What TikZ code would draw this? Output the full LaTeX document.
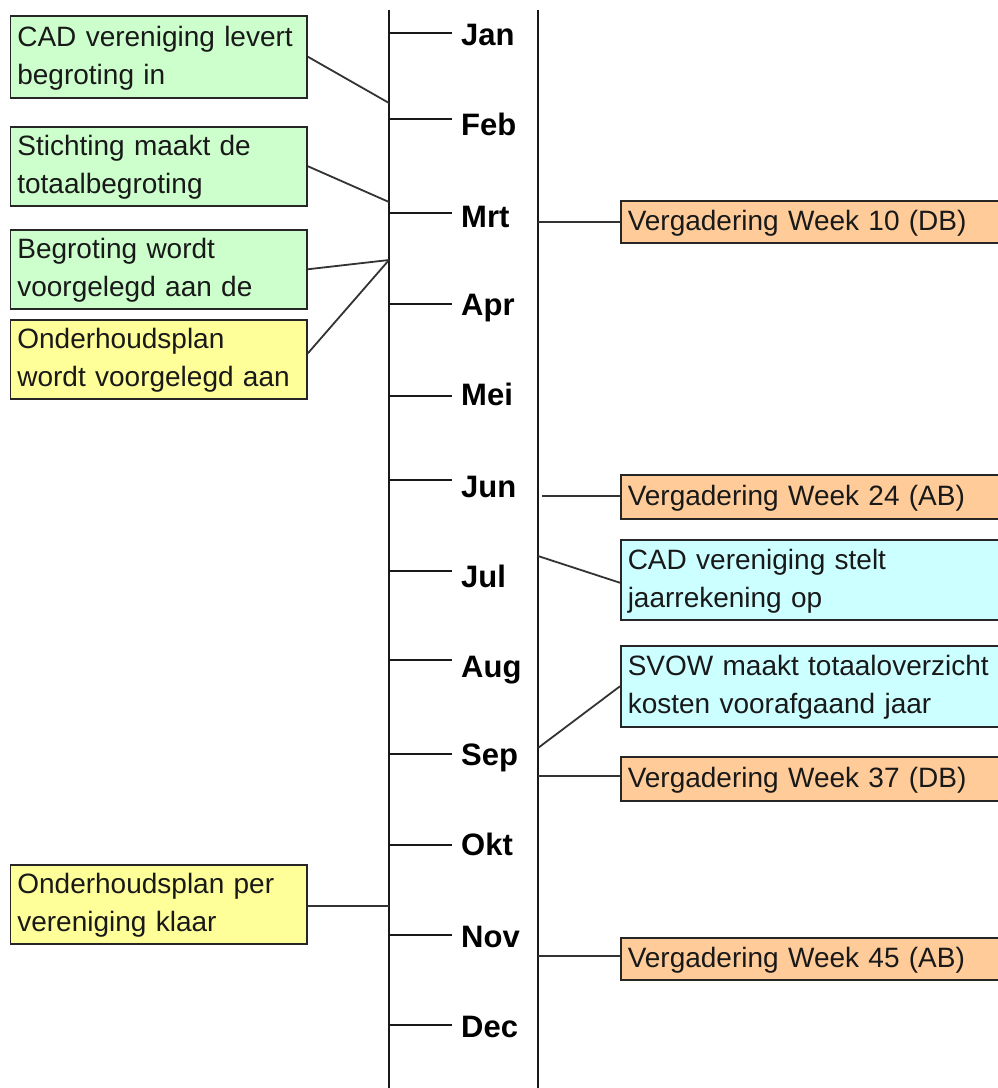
\documentclass[tikz,border=0pt]{standalone}
\usepackage{fontspec}
\setmainfont{Liberation Sans}
\newcommand{\lstrut}{\rule[-7pt]{0pt}{31pt}}
\definecolor{boxgreen}{HTML}{CCFFCC}
\definecolor{boxyellow}{HTML}{FFFF99}
\definecolor{boxorange}{HTML}{FFCC99}
\definecolor{boxcyan}{HTML}{CCFFFF}
\definecolor{linegray}{HTML}{333333}
\tikzset{
  infobox/.style={draw=black!85, line width=1.5pt, inner xsep=7pt, inner ysep=0pt,
    anchor=north west, align=left, text=black!90,
    font=\fontsize{28}{38}\selectfont},
  leftbox/.style={infobox, text width=282.8pt},
  rightbox/.style={infobox, text width=366pt},
  month/.style={anchor=base west, inner sep=0pt, font=\fontsize{31}{36}\selectfont\bfseries},
  axis/.style={draw=black!90, line width=2pt},
  tick/.style={draw=black!90, line width=1.8pt},
  conn/.style={draw=linegray, line width=1.8pt}
}
\begin{document}
\begin{tikzpicture}[x=1pt,y=-1pt]
\useasboundingbox[fill=white] (0,0) rectangle (998,1088);

% axes
\coordinate (ltop) at (389,10);
\coordinate (lbot) at (389,1090);
\coordinate (rtop) at (538,10);
\coordinate (rbot) at (538,1090);
\draw[axis] (ltop) -- (lbot);
\draw[axis] (rtop) -- (rbot);

% months: tick y, label baseline
\foreach \i/\name/\ty/\by in {1/Jan/33/45, 2/Feb/119/135, 3/Mrt/213/227, 4/Apr/304/315,
  5/Mei/396/405, 6/Jun/480/497, 7/Jul/571/587, 8/Aug/660/677, 9/Sep/754/765,
  10/Okt/845/855, 11/Nov/935/947, 12/Dec/1025/1037}{
  \coordinate (ts\i) at (389,\ty);
  \coordinate (te\i) at (452,\ty);
  \draw[tick] (ts\i) -- (te\i);
  \node[month] (m\i) at (461,\by) {\name};
}

% left boxes
\node[leftbox, fill=boxgreen, minimum height=82pt] (b1) at (9.6,15)
  {\lstrut CAD vereniging levert\\\lstrut begroting in};
\node[leftbox, fill=boxgreen, minimum height=79pt] (b2) at (9.6,126)
  {\lstrut Stichting maakt de\\\lstrut totaalbegroting};
\node[leftbox, fill=boxgreen, minimum height=79pt] (b3) at (9.6,229)
  {\lstrut Begroting wordt\\\lstrut voorgelegd aan de};
\node[leftbox, fill=boxyellow, minimum height=79pt] (b4) at (9.6,319)
  {\lstrut Onderhoudsplan\\\lstrut wordt voorgelegd aan};
\node[leftbox, fill=boxyellow, minimum height=79pt] (b5) at (9.6,864)
  {\lstrut Onderhoudsplan per\\\lstrut vereniging klaar};

% right boxes
\node[rightbox, fill=boxorange, minimum height=42pt] (o1) at (620,200)
  {\lstrut Vergadering Week 10 (DB)};
\node[rightbox, fill=boxorange, minimum height=44pt] (o2) at (620,474)
  {\lstrut Vergadering Week 24 (AB)};
\node[rightbox, fill=boxcyan, minimum height=80pt] (c1) at (620,539)
  {\lstrut CAD vereniging stelt\\\lstrut jaarrekening op};
\node[rightbox, fill=boxcyan, minimum height=81pt] (c2) at (620,645)
  {\lstrut SVOW maakt totaaloverzicht\\\lstrut kosten voorafgaand jaar};
\node[rightbox, fill=boxorange, minimum height=44pt] (o3) at (620,756)
  {\lstrut Vergadering Week 37 (DB)};
\node[rightbox, fill=boxorange, minimum height=42pt] (o4) at (620,937)
  {\lstrut Vergadering Week 45 (AB)};

% connector end points on axes
\coordinate (j1) at (389,103);
\coordinate (j2) at (389,202);
\coordinate (j3) at (389,260);
\coordinate (j5) at (389,906);
\coordinate (k1) at (538,222);
\coordinate (k2) at (542,496);
\coordinate (k3) at (538,556);
\coordinate (k4) at (538,748);
\coordinate (k5) at (538,776);
\coordinate (k6) at (538,956);

% left connectors
\draw[conn] (b1.east) -- (j1);
\draw[conn] (b2.east) -- (j2);
\draw[conn] (b3.east) -- (j3);
\draw[conn] ([yshift=6pt]b4.east) -- (j3);
\draw[conn] (b5.east |- j5) -- (j5);

% right connectors
\draw[conn] (k1) -- (o1.west |- k1);
\draw[conn] (k2) -- (o2.west |- k2);
\draw[conn] (k3) -- ([yshift=-3pt]c1.west);
\draw[conn] (k4) -- (c2.west);
\draw[conn] (k5) -- (o3.west |- k5);
\draw[conn] (k6) -- (o4.west |- k6);
\end{tikzpicture}
\end{document}
